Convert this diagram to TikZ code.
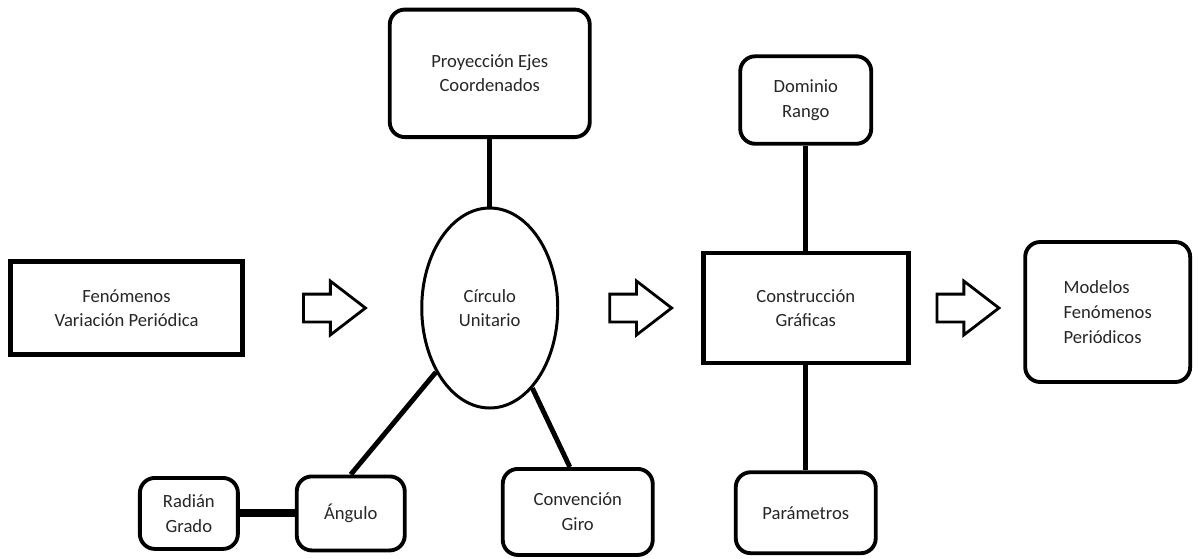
\documentclass[tikz,border=0pt]{standalone}
\usepackage{fontspec}
\setmainfont{Carlito}
\usetikzlibrary{shapes.geometric, shapes.arrows, positioning}

\begin{document}
\begin{tikzpicture}[
        node distance=1cm,
        every node/.style={font=\fontsize{10.6}{14}\selectfont, text=black!85},
        plainbox/.style={draw=black, rectangle, line width=2.6pt, align=center},
        roundbox/.style={draw=black, rectangle, rounded corners=0.3cm, line width=2.2pt, align=center},
        circlenode/.style={draw=black, ellipse, line width=1.7pt, minimum width=2.72cm, minimum height=4cm, align=center},
        bigarrow/.style={draw=black, single arrow, line width=1.6pt, minimum height=1.24cm, inner xsep=0pt, inner ysep=0.25cm, single arrow head extend=0.26cm, single arrow tip angle=75},
        link/.style={line width=2.8pt},
        boldlink/.style={line width=4.5pt}
    ]
        \useasboundingbox (0,0) rectangle (23.98,-11.16);

        % main row
        \node (fen) [plainbox, minimum width=4.65cm, minimum height=1.85cm] at (2.53,-6.16) {Fenómenos \\ Variación Periódica};
        \node (a1) [bigarrow, right=1.14cm of fen] {};
        \node (circ) [circlenode, right=1.05cm of a1] {Círculo \\ Unitario};
        \node (a2) [bigarrow, right=0.98cm of circ] {};
        \node (cons) [plainbox, minimum width=4.1cm, minimum height=2.2cm, right=0.54cm of a2] {Construcción \\ Gráficas};
        \node (a3) [bigarrow, right=0.5cm of cons] {};
        \node (mod) [roundbox, align=left, minimum width=3.3cm, minimum height=2.8cm, right=0.44cm of a3, yshift=-0.08cm] {Modelos \\ Fenómenos \\ Periódicos\hspace{0.35cm}};

        % around the circle
        \node (proy) [roundbox, minimum width=4cm, minimum height=2.55cm, above=1.35cm of circ] {Proyección Ejes \\ Coordenados};
        \node (ang) [roundbox, minimum width=2.16cm, minimum height=1.48cm, below=1.3cm of circ, xshift=-2.78cm] {Ángulo};
        \node (rad) [roundbox, minimum width=1.96cm, minimum height=1.42cm, left=1.1cm of ang] {Radián \\ Grado};
        \node (conv) [roundbox, minimum width=3cm, minimum height=1.72cm, below=1.15cm of circ, xshift=1.76cm] {Convención \\ Giro};

        % around the graphs
        \node (dom) [roundbox, minimum width=2.62cm, minimum height=1.75cm, above=2.1cm of cons] {Dominio \\ Rango};
        \node (param) [roundbox, minimum width=2.8cm, minimum height=1.62cm, below=2.1cm of cons] {Parámetros};

        \draw [link] (proy) -- (circ);
        \draw [link] (circ.-130) -- (ang.north);
        \draw [link] (circ.-62) -- (conv.100);
        \draw [boldlink] (rad) -- (ang);
        \draw [link] (dom) -- (cons);
        \draw [link] (cons) -- (param);
    \end{tikzpicture}
\end{document}
